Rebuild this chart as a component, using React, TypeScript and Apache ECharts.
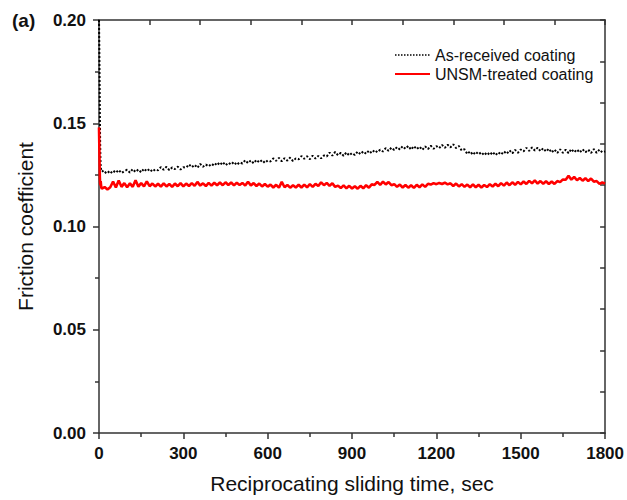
import React, { useEffect, useRef } from "react";
import * as echarts from "echarts";

const panelLabel = "(a)";
const xTitle = "Reciprocating sliding time, sec";
const yTitle = "Friction coefficient";
const seriesNames = ["As-received coating", "UNSM-treated coating"];

const timeSec = [
  0, 1, 2, 3, 4, 5, 6, 8,
  10, 20, 30, 40, 50, 60, 70, 80, 90, 100,
  110, 120, 130, 140, 150, 160, 170, 180, 190, 200,
  210, 220, 230, 240, 250, 260, 270, 280, 290, 300,
  310, 320, 330, 340, 350, 360, 370, 380, 390, 400,
  410, 420, 430, 440, 450, 460, 470, 480, 490, 500,
  510, 520, 530, 540, 550, 560, 570, 580, 590, 600,
  610, 620, 630, 640, 650, 660, 670, 680, 690, 700,
  710, 720, 730, 740, 750, 760, 770, 780, 790, 800,
  810, 820, 830, 840, 850, 860, 870, 880, 890, 900,
  910, 920, 930, 940, 950, 960, 970, 980, 990, 1000,
  1010, 1020, 1030, 1040, 1050, 1060, 1070, 1080, 1090, 1100,
  1110, 1120, 1130, 1140, 1150, 1160, 1170, 1180, 1190, 1200,
  1210, 1220, 1230, 1240, 1250, 1260, 1270, 1280, 1290, 1300,
  1310, 1320, 1330, 1340, 1350, 1360, 1370, 1380, 1390, 1400,
  1410, 1420, 1430, 1440, 1450, 1460, 1470, 1480, 1490, 1500,
  1510, 1520, 1530, 1540, 1550, 1560, 1570, 1580, 1590, 1600,
  1610, 1620, 1630, 1640, 1650, 1660, 1670, 1680, 1690, 1700,
  1710, 1720, 1730, 1740, 1750, 1760, 1770, 1780, 1790, 1800,
];

const asReceived = [
  0.2000, 0.1880, 0.1720, 0.1550, 0.1410, 0.1330, 0.1290, 0.1270,
  0.1273, 0.1258, 0.1269, 0.1256, 0.1271, 0.1260, 0.1274, 0.1259, 0.1268, 0.1275,
  0.1261, 0.1278, 0.1264, 0.1276, 0.1262, 0.1280, 0.1267, 0.1279, 0.1265, 0.1277,
  0.1272, 0.1288, 0.1275, 0.1289, 0.1273, 0.1286, 0.1278, 0.1290, 0.1276, 0.1287,
  0.1285, 0.1301, 0.1287, 0.1299, 0.1284, 0.1303, 0.1289, 0.1300, 0.1291, 0.1304,
  0.1294, 0.1310, 0.1297, 0.1312, 0.1296, 0.1309, 0.1300, 0.1313, 0.1298, 0.1311,
  0.1305, 0.1321, 0.1307, 0.1320, 0.1306, 0.1323, 0.1310, 0.1322, 0.1308, 0.1320,
  0.1315, 0.1330, 0.1318, 0.1332, 0.1316, 0.1331, 0.1319, 0.1334, 0.1317, 0.1330,
  0.1325, 0.1341, 0.1328, 0.1340, 0.1326, 0.1343, 0.1329, 0.1342, 0.1330, 0.1344,
  0.1339, 0.1358, 0.1343, 0.1361, 0.1345, 0.1357, 0.1342, 0.1359, 0.1344, 0.1356,
  0.1346, 0.1363, 0.1350, 0.1364, 0.1352, 0.1368, 0.1355, 0.1370, 0.1359, 0.1372,
  0.1363, 0.1380, 0.1366, 0.1382, 0.1370, 0.1385, 0.1373, 0.1389, 0.1376, 0.1390,
  0.1372, 0.1389, 0.1374, 0.1387, 0.1371, 0.1388, 0.1375, 0.1391, 0.1376, 0.1389,
  0.1379, 0.1395, 0.1381, 0.1396, 0.1383, 0.1398, 0.1380, 0.1390, 0.1368, 0.1374,
  0.1351, 0.1364, 0.1347, 0.1362, 0.1349, 0.1360, 0.1345, 0.1359, 0.1346, 0.1361,
  0.1345, 0.1360, 0.1348, 0.1364, 0.1352, 0.1369, 0.1354, 0.1371, 0.1357, 0.1373,
  0.1364, 0.1381, 0.1366, 0.1383, 0.1368, 0.1382, 0.1365, 0.1379, 0.1363, 0.1377,
  0.1358, 0.1373, 0.1356, 0.1374, 0.1357, 0.1372, 0.1355, 0.1375, 0.1359, 0.1373,
  0.1358, 0.1374, 0.1359, 0.1372, 0.1356, 0.1375, 0.1357, 0.1373, 0.1359, 0.1364,
];

const unsmTreated = [
  0.1480, 0.1400, 0.1310, 0.1240, 0.1210, 0.1200, 0.1220, 0.1190,
  0.1183, 0.1191, 0.1179, 0.1190, 0.1218, 0.1189, 0.1223, 0.1192, 0.1210, 0.1190,
  0.1209, 0.1192, 0.1224, 0.1193, 0.1210, 0.1194, 0.1219, 0.1195, 0.1208, 0.1194,
  0.1207, 0.1193, 0.1209, 0.1194, 0.1206, 0.1192, 0.1208, 0.1195, 0.1210, 0.1194,
  0.1208, 0.1196, 0.1210, 0.1197, 0.1216, 0.1198, 0.1209, 0.1196, 0.1211, 0.1198,
  0.1212, 0.1200, 0.1213, 0.1200, 0.1214, 0.1201, 0.1213, 0.1199, 0.1212, 0.1201,
  0.1211, 0.1198, 0.1217, 0.1199, 0.1210, 0.1196, 0.1208, 0.1194, 0.1206, 0.1193,
  0.1203, 0.1189, 0.1202, 0.1188, 0.1216, 0.1190, 0.1201, 0.1188, 0.1200, 0.1189,
  0.1202, 0.1189, 0.1203, 0.1190, 0.1205, 0.1192, 0.1207, 0.1196, 0.1214, 0.1200,
  0.1211, 0.1197, 0.1209, 0.1192, 0.1198, 0.1186, 0.1199, 0.1185, 0.1197, 0.1184,
  0.1195, 0.1183, 0.1197, 0.1185, 0.1200, 0.1188, 0.1204, 0.1201, 0.1216, 0.1202,
  0.1217, 0.1204, 0.1215, 0.1200, 0.1205, 0.1192, 0.1203, 0.1189, 0.1201, 0.1188,
  0.1200, 0.1187, 0.1202, 0.1190, 0.1204, 0.1192, 0.1207, 0.1203, 0.1210, 0.1205,
  0.1211, 0.1206, 0.1212, 0.1204, 0.1209, 0.1196, 0.1208, 0.1194, 0.1205, 0.1192,
  0.1203, 0.1190, 0.1204, 0.1190, 0.1202, 0.1189, 0.1201, 0.1191, 0.1205, 0.1194,
  0.1207, 0.1195, 0.1210, 0.1198, 0.1213, 0.1200, 0.1214, 0.1202, 0.1216, 0.1204,
  0.1218, 0.1206, 0.1221, 0.1209, 0.1223, 0.1208, 0.1220, 0.1207, 0.1219, 0.1206,
  0.1218, 0.1206, 0.1220, 0.1215, 0.1228, 0.1226, 0.1246, 0.1227, 0.1240, 0.1224,
  0.1235, 0.1222, 0.1234, 0.1220, 0.1232, 0.1217, 0.1220, 0.1206, 0.1213, 0.1208,
];

const FONT = "'Liberation Sans', Arial, sans-serif";
const AXIS_COLOR = "#333333";
const TEXT_COLOR = "#111111";

export default function App() {
  const ref = useRef<HTMLDivElement>(null);

  useEffect(() => {
    if (!ref.current) return;
    const chart = echarts.init(ref.current, undefined, { renderer: "svg" });

    const pairs = (vals: number[]) => timeSec.map((t, i) => [t, vals[i]]);

    const axisLine = { show: true, onZero: false, lineStyle: { color: AXIS_COLOR, width: 1.5 } };
    const tickStyle = { color: AXIS_COLOR, width: 1.5 };

    chart.setOption({
      animation: false,
      backgroundColor: "#ffffff",
      grid: { left: 99, right: 19, top: 20, bottom: 67, containLabel: false },
      xAxis: [
        {
          type: "value",
          position: "bottom",
          min: 0,
          max: 1800,
          interval: 300,
          axisLine,
          axisTick: { show: true, inside: false, length: 6, lineStyle: tickStyle },
          minorTick: { show: true, splitNumber: 2, length: 4, lineStyle: tickStyle },
          splitLine: { show: false },
          minorSplitLine: { show: false },
          axisLabel: {
            fontFamily: FONT,
            fontWeight: "bold",
            fontSize: 17,
            color: TEXT_COLOR,
            margin: 12,
            formatter: (v: number) => String(v),
          },
          name: xTitle,
          nameLocation: "middle",
          nameGap: 40,
          nameTextStyle: { fontFamily: FONT, fontSize: 21, color: TEXT_COLOR },
        },
        {
          type: "value",
          position: "top",
          min: 0,
          max: 1800,
          interval: 180,
          axisLine,
          axisTick: { show: true, inside: true, length: 5, lineStyle: tickStyle },
          axisLabel: { show: false },
          splitLine: { show: false },
        },
      ],
      yAxis: [
        {
          type: "value",
          position: "left",
          min: 0,
          max: 0.2,
          interval: 0.05,
          axisLine,
          axisTick: { show: true, inside: false, length: 6, lineStyle: tickStyle },
          minorTick: { show: true, splitNumber: 2, length: 4, lineStyle: tickStyle },
          splitLine: { show: false },
          minorSplitLine: { show: false },
          axisLabel: {
            fontFamily: FONT,
            fontWeight: "bold",
            fontSize: 17,
            color: TEXT_COLOR,
            margin: 13,
            formatter: (v: number) => v.toFixed(2),
          },
          name: yTitle,
          nameLocation: "middle",
          nameGap: 63,
          nameTextStyle: { fontFamily: FONT, fontSize: 21, color: TEXT_COLOR },
        },
        {
          type: "value",
          position: "right",
          min: 0,
          max: 0.2,
          interval: 0.02,
          axisLine,
          axisTick: { show: true, inside: true, length: 5, lineStyle: tickStyle },
          axisLabel: { show: false },
          splitLine: { show: false },
        },
      ],
      series: [
        {
          name: seriesNames[0],
          type: "line",
          xAxisIndex: 0,
          yAxisIndex: 0,
          data: pairs(asReceived),
          showSymbol: false,
          symbol: "none",
          lineStyle: { color: "#000000", width: 2, type: "dotted" },
          z: 3,
        },
        {
          name: seriesNames[1],
          type: "line",
          xAxisIndex: 0,
          yAxisIndex: 0,
          data: pairs(unsmTreated),
          showSymbol: false,
          symbol: "none",
          lineStyle: { color: "#ff0000", width: 2.6 },
          z: 4,
        },
      ],
      graphic: [
        {
          type: "text",
          left: 12,
          top: 11,
          style: {
            text: panelLabel,
            fontFamily: FONT,
            fontWeight: "bold",
            fontSize: 19,
            fill: TEXT_COLOR,
          },
        },
        {
          type: "line",
          shape: { x1: 395, y1: 55, x2: 430, y2: 55 },
          style: { stroke: "#000000", lineWidth: 1.5, lineDash: [1.5, 1.5] },
        },
        {
          type: "text",
          x: 435,
          y: 55,
          style: {
            text: seriesNames[0],
            fontFamily: FONT,
            fontSize: 16,
            fill: TEXT_COLOR,
            verticalAlign: "middle",
            align: "left",
          },
        },
        {
          type: "line",
          shape: { x1: 395, y1: 74, x2: 430, y2: 74 },
          style: { stroke: "#ff0000", lineWidth: 2 },
        },
        {
          type: "text",
          x: 435,
          y: 74,
          style: {
            text: seriesNames[1],
            fontFamily: FONT,
            fontSize: 16,
            fill: TEXT_COLOR,
            verticalAlign: "middle",
            align: "left",
          },
        },
      ],
    });

    return () => chart.dispose();
  }, []);

  return (
    <div
      ref={ref}
      style={{ width: 627, height: 500, position: "absolute", left: 0, top: 0 }}
    />
  );
}
